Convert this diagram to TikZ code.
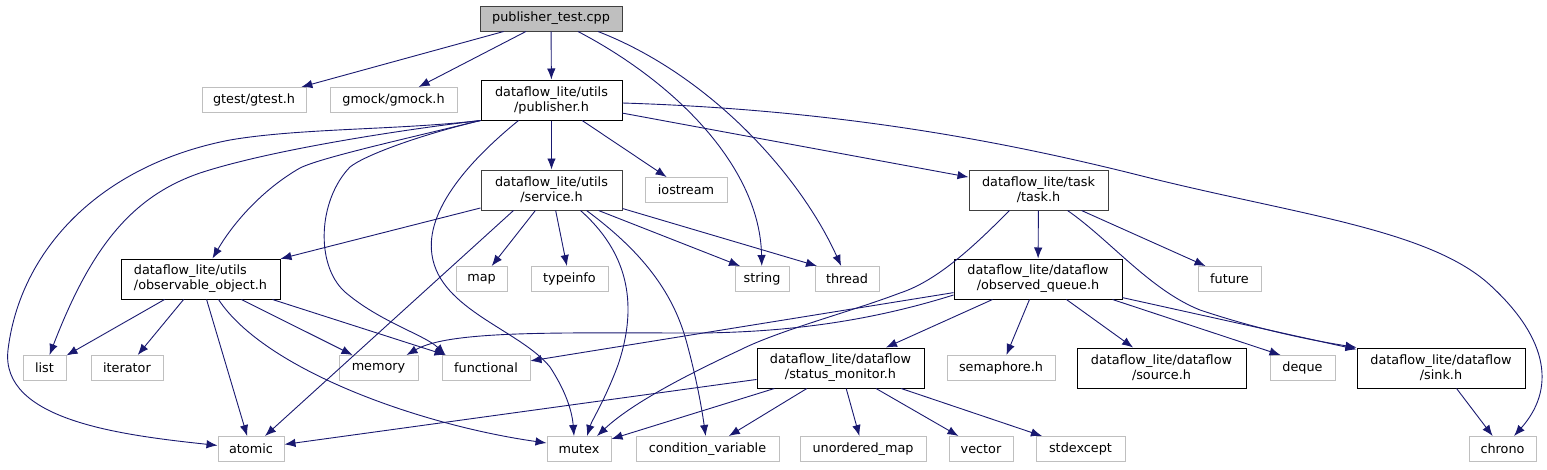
\documentclass[tikz,border=0pt]{standalone}
\usepackage{fontspec}
\setmainfont{DejaVu Sans}
\usetikzlibrary{arrows.meta}
\definecolor{edgec}{HTML}{191970}
\definecolor{sysc}{HTML}{BFBFBF}
\definecolor{rootc}{HTML}{BFBFBF}
\definecolor{dkc}{HTML}{404040}
\newcommand{\lblfont}{\fontsize{12.8}{15}\selectfont}
\begin{document}
\begin{tikzpicture}[x=1pt,y=-1pt,
  nd/.style={rectangle, line width=1pt, inner sep=0pt, minimum height=25pt, font=\lblfont, align=center, fill=white},
  sys/.style={nd, draw=sysc},
  loc/.style={nd, draw=black, minimum height=40pt},
  locd/.style={loc, draw=dkc},
  e/.style={draw=edgec, line width=0.9pt, -{Latex[length=11pt,width=8.5pt]}}]
\useasboundingbox (0,0) rectangle (1547,469);
% nodes
\node[nd, draw=dkc, fill=rootc, minimum width=142pt] (pt) at (551,18.5) {publisher\_test.cpp};
\node[sys, minimum width=104pt] (gtest) at (254,100) {gtest/gtest.h};
\node[sys, minimum width=127pt] (gmock) at (393.5,100) {gmock/gmock.h};
\node[loc, minimum width=141pt] (pub) at (551.5,100) {dataflow\_lite/utils\\/publisher.h};
\node[locd, minimum width=141pt] (srv) at (551.5,190) {dataflow\_lite/utils\\/service.h};
\node[sys, minimum width=82pt] (iostream) at (686,190) {iostream};
\node[locd, minimum width=139pt] (task) at (1038.5,190) {dataflow\_lite/task\\/task.h};
\node[loc, minimum width=159pt, align=left] (obs) at (200.5,279) {dataflow\_lite/utils\\/observable\_object.h};
\node[sys, minimum width=51pt] (map) at (481.5,279) {map};
\node[sys, minimum width=77pt] (typeinfo) at (569.5,279) {typeinfo};
\node[sys, minimum width=54pt] (string) at (762,279) {string};
\node[sys, minimum width=64pt] (thread) at (847,279) {thread};
\node[loc, minimum width=168pt] (oq) at (1038,279) {dataflow\_lite/dataflow\\/observed\_queue.h};
\node[sys, minimum width=63pt] (future) at (1229.5,279) {future};
\node[sys, minimum width=43pt] (list) at (44.5,368) {list};
\node[sys, minimum width=72pt] (iterator) at (127,368) {iterator};
\node[sys, minimum width=79pt] (memory) at (378.5,368) {memory};
\node[sys, minimum width=88pt] (functional) at (486,368) {functional};
\node[loc, minimum width=167pt] (sm) at (840.5,368) {dataflow\_lite/dataflow\\/status\_monitor.h};
\node[sys, minimum width=108pt] (semaphore) at (1001,368) {semaphore.h};
\node[loc, minimum width=169pt] (source) at (1161.5,368) {dataflow\_lite/dataflow\\/source.h};
\node[sys, minimum width=65pt] (deque) at (1302.5,368) {deque};
\node[loc, minimum width=168pt] (sink) at (1441,368) {dataflow\_lite/dataflow\\/sink.h};
\node[sys, minimum width=66pt] (atomic) at (251,449) {atomic};
\node[sys, minimum width=64pt] (mutex) at (579,449) {mutex};
\node[sys, minimum width=143pt] (condvar) at (707.5,449) {condition\_variable};
\node[sys, minimum width=126pt] (umap) at (863,449) {unordered\_map};
\node[sys, minimum width=64pt] (vector) at (981,449) {vector};
\node[sys, minimum width=89pt] (stdexcept) at (1080.5,449) {stdexcept};
\node[sys, minimum width=67pt] (chrono) at (1502.5,449) {chrono};
% edges from publisher_test.cpp
\draw[e] (pt) -- (gtest);
\draw[e] (pt) -- (gmock);
\draw[e] (pt) -- (pub);
\draw[e] ([xshift=27pt]pt.south) .. controls (680,85) and (760,170) .. (string);
\draw[e] ([xshift=47pt]pt.south) .. controls (710,75) and (800,175) .. (thread);
% edges from publisher.h
\draw[e] (pub) -- (srv);
\draw[e] (pub) -- (iostream);
\draw[e] (pub) -- (task);
\draw[e] ([yshift=-3pt]pub.east) .. controls (850,110) and (1020,145) .. (1150,178) .. controls (1300,215) and (1430,230) .. (1490,285) .. controls (1550,340) and (1555,390) .. (chrono);
\draw[e] (pub.south west) .. controls (400,140) and (320,158) .. (300,168) .. controls (265,188) and (235,220) .. (obs);
\draw[e] (pub.south west) .. controls (400,130) and (270,150) .. (200,173) .. controls (130,197) and (90,250) .. (list);
\draw[e] (pub.south west) .. controls (400,130) and (300,128) .. (230,140) .. controls (100,165) and (20,250) .. (8,350) .. controls (0,420) and (120,435) .. (atomic);
\draw[e] (pub.south west) .. controls (420,135) and (365,155) .. (350,167) .. controls (318,200) and (315,265) .. (345,292) .. controls (380,322) and (425,335) .. ([xshift=4pt]functional.north west);
\draw[e] ([xshift=-33pt]pub.south) .. controls (470,160) and (425,210) .. (432,255) .. controls (440,310) and (520,330) .. (550,367) .. controls (565,390) and (572,410) .. ([xshift=-5pt]mutex.north);
% edges from service.h
\draw[e] (srv) -- (obs);
\draw[e] ([xshift=-38pt]srv.south) -- ([xshift=14pt]atomic.north);
\draw[e] (srv) -- (map);
\draw[e] (srv) -- (typeinfo);
\draw[e] ([xshift=29pt]srv.south) .. controls (625,250) and (640,300) .. (618,365) .. controls (605,400) and (592,420) .. ([xshift=8pt]mutex.north);
\draw[e] ([xshift=35pt]srv.south) .. controls (640,250) and (672,290) .. (686,340) .. controls (697,380) and (702,410) .. (condvar);
\draw[e] ([xshift=47pt]srv.south) -- ([xshift=-22pt]string.north);
\draw[e] ([yshift=2pt]srv.south east) -- ([xshift=-30pt]thread.north);
% edges from observable_object.h
\draw[e] (obs) -- (list);
\draw[e] (obs) -- (iterator);
\draw[e] (obs) -- (atomic);
\draw[e] ([xshift=18pt]obs.south) .. controls (265,370) and (420,425) .. ([yshift=6pt]mutex.west);
\draw[e] (obs) -- (memory);
\draw[e] ([xshift=72pt]obs.south) -- ([xshift=4pt]functional.north west);
% edges from task.h
\draw[e] (task) -- (oq);
\draw[e] ([xshift=43pt]task.south) -- ([xshift=-24pt]future.north);
\draw[e] ([xshift=29pt]task.south) .. controls (1110,240) and (1150,290) .. (1200,310) .. controls (1260,330) and (1310,340) .. (sink.north west);
\draw[e] ([xshift=-29pt]task.south) .. controls (980,240) and (940,280) .. (900,293) .. controls (850,312) and (780,330) .. (740,350) .. controls (680,378) and (630,405) .. ([xshift=18pt]mutex.north);
% edges from observed_queue.h
\draw[e] ([yshift=-16pt]oq.west) .. controls (880,318) and (800,332) .. (700,333) .. controls (560,333) and (450,330) .. ([xshift=-12pt]memory.north east);
\draw[e] (oq) -- (functional);
\draw[e] (oq) -- (sm);
\draw[e] (oq) -- (semaphore);
\draw[e] (oq) -- (source);
\draw[e] ([xshift=-10pt]oq.south east) -- ([xshift=-22pt]deque.north);
\draw[e] (oq) -- (sink);
% edges from status_monitor.h
\draw[e] (sm) -- (atomic);
\draw[e] (sm) -- (mutex);
\draw[e] (sm) -- (condvar);
\draw[e] (sm) -- (umap);
\draw[e] (sm) -- (vector);
\draw[e] (sm) -- (stdexcept);
% edges from sink.h
\draw[e] (sink) -- (chrono);
\end{tikzpicture}
\end{document}
